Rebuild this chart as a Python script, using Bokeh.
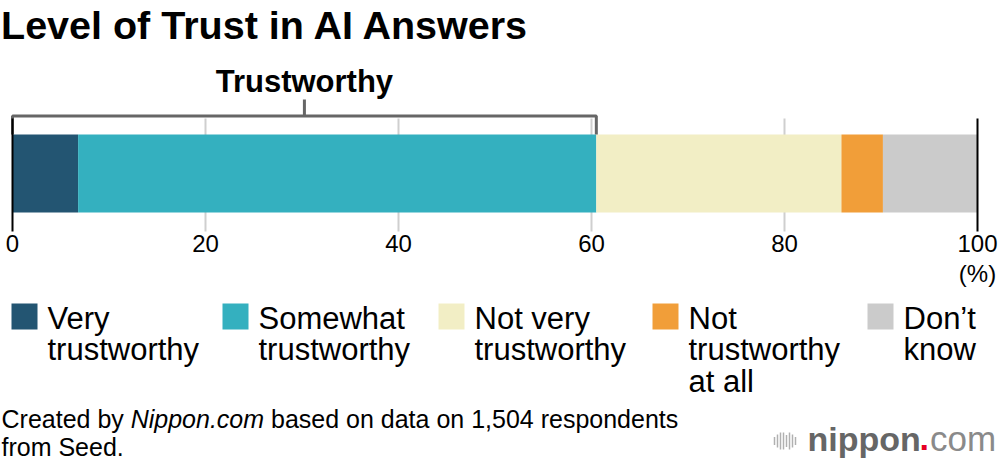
from bokeh.plotting import figure
from bokeh.models import Range1d, LinearAxis, FixedTicker, ColumnDataSource
from bokeh.core.properties import value
from bokeh.embed import file_html
from bokeh.resources import INLINE

# ---------------- data ----------------
title_text = "Level of Trust in AI Answers"
categories = ["Very\ntrustworthy", "Somewhat\ntrustworthy", "Not very\ntrustworthy",
              "Not\ntrustworthy\nat all", "Don\u2019t\nknow"]
shares = [6.8, 53.7, 25.4, 4.3, 9.8]
colors = ["#235572", "#34b0bf", "#f2eec5", "#f19e39", "#cbcbcb"]
tick_values = [0, 20, 40, 60, 80, 100]
tick_labels = ["0", "20", "40", "60", "80", "100"]
unit_label = "(%)"
bracket_label = "Trustworthy"
bracket_count = 2  # first two categories form the "Trustworthy" group
footer_parts = ["Created by", "Nippon.com", "based on data on 1,504 respondents"]
footer_line2 = "from Seed."

# ---------------- layout (pixel space of the page) ----------------
FONT = "Liberation Sans"
W, H = 1000, 466
PX0, PX100 = 12, 977        # pixel of 0 % and 100 %
S = (PX100 - PX0) / 100.0
K = 0.32                    # baseline correction (fraction of font size)


def base(y, fs):
    """alphabetic baseline position corrected for the renderer's offset"""
    return y - K * fs


p = figure(width=W, height=H,
           x_range=Range1d((0 - PX0) / S, (W - PX0) / S),
           y_range=Range1d(H, 0),
           output_backend="svg", toolbar_location=None,
           x_axis_location=None, y_axis_location=None,
           min_border=0, outline_line_color=None,
           background_fill_color="white", border_fill_color="white")
p.extra_x_ranges = {"px": Range1d(0, W)}
p.grid.visible = False

# cumulative extents
lefts, rights = [], []
acc = 0.0
for s in shares:
    lefts.append(acc)
    acc += s
    rights.append(acc)

BAR_Y, BAR_H = 173, 78
GRID_TOP, GRID_BOT = 118, 231

# grid lines (behind bar)
inner = tick_values[1:-1]
p.segment(x0=inner, y0=[GRID_TOP] * len(inner), x1=inner, y1=[GRID_BOT] * len(inner),
          line_color="#cfcfcf", line_width=2)

src = ColumnDataSource(dict(y=[BAR_Y] * len(shares), left=lefts, right=rights, color=colors))
p.hbar(y="y", left="left", right="right", height=BAR_H, fill_color="color",
       line_color=None, source=src)

# bracket
trust_total = rights[bracket_count - 1]
mid = trust_total / 2.0
BR_Y = 115.5
bar_top = BAR_Y - BAR_H / 2
p.line(x=[0, 0, trust_total, trust_total], y=[bar_top, BR_Y, BR_Y, bar_top],
       line_color="#666666", line_width=3)
p.segment(x0=[mid], y0=[99], x1=[mid], y1=[BR_Y], line_color="#666666", line_width=3)
p.text(x=[mid], y=[base(91, 31)], text=[bracket_label], text_font=value(FONT),
       text_font_style="bold", text_font_size="31px", text_align="center",
       text_baseline="alphabetic", text_color="black")

# edge lines at 0 and 100
edges = [tick_values[0], tick_values[-1]]
p.segment(x0=edges, y0=[GRID_TOP] * 2, x1=edges, y1=[GRID_BOT] * 2,
          line_color="black", line_width=2)

# x axis (fixed inside frame)
xaxis = LinearAxis(ticker=FixedTicker(ticks=tick_values), fixed_location=230,
                   axis_line_color=None, major_tick_line_color=None,
                   minor_tick_line_color=None, major_tick_out=0, major_tick_in=0,
                   major_label_standoff=4, major_label_text_font=FONT,
                   major_label_text_font_size="24px", major_label_text_color="black")
xaxis.major_label_overrides = {v: l for v, l in zip(tick_values, tick_labels)}
p.add_layout(xaxis, "below")
p.text(x=[tick_values[-1]], y=[base(281, 24)], text=[unit_label], text_font=value(FONT),
       text_font_size="24px", text_align="center", text_baseline="alphabetic",
       text_color="black")

# title
p.text(x=[0.5], y=[base(37.5, 39.5)], x_range_name="px", text=[title_text],
       text_font=value(FONT), text_font_style="bold", text_font_size="39.5px",
       text_baseline="alphabetic", text_color="black")

# legend
leg_x = [11, 222, 438, 652, 867]
SW = 26
LFS = 31
p.rect(x=[x + SW / 2 for x in leg_x], y=[316] * len(leg_x), width=SW, height=SW,
       x_range_name="px", fill_color=colors, line_color=None)
lx, ly, lt = [], [], []
for x, lab in zip(leg_x, categories):
    for i, line in enumerate(lab.split("\n")):
        lx.append(x + 36)
        ly.append(base(327.5 + i * 31.5, LFS))
        lt.append(line)
p.text(x=lx, y=ly, text=lt, x_range_name="px", text_font=value(FONT),
       text_font_size="%dpx" % LFS, text_baseline="alphabetic", text_color="black")

# footer
FFS = 25
FS = "%dpx" % FFS
p.text(x=[1], y=[base(426.5, FFS)], text=[footer_parts[0]], x_range_name="px",
       text_font=value(FONT), text_font_size=FS, text_baseline="alphabetic", text_color="black")
p.text(x=[130.2], y=[base(426.5, FFS)], text=[footer_parts[1]], x_range_name="px",
       text_font=value(FONT), text_font_style="italic", text_font_size=FS,
       text_baseline="alphabetic", text_color="black")
p.text(x=[270.5], y=[base(426.5, FFS)], text=[footer_parts[2]], x_range_name="px",
       text_font=value(FONT), text_font_size=FS, text_baseline="alphabetic", text_color="black")
p.text(x=[1], y=[base(454.5, FFS)], text=[footer_line2], x_range_name="px",
       text_font=value(FONT), text_font_size=FS, text_baseline="alphabetic", text_color="black")

# logo
icon_x = [774, 777, 780, 783, 786, 789, 792, 795]
icon_h = [8, 13, 17, 17, 12, 17, 13, 8]
p.segment(x0=icon_x, y0=[440.5 - h / 2 for h in icon_h], x1=icon_x,
          y1=[440.5 + h / 2 for h in icon_h], x_range_name="px",
          line_color="#b0b0b0", line_width=1.5)
p.text(x=[807], y=[base(449, 34)], text=["nippon"], x_range_name="px", text_font=value(FONT),
       text_font_style="bold", text_font_size="34px", text_baseline="alphabetic",
       text_color="#666666")
p.text(x=[919], y=[base(449, 34)], text=["."], x_range_name="px", text_font=value(FONT),
       text_font_style="bold", text_font_size="34px", text_baseline="alphabetic",
       text_color="#e60023")
p.text(x=[929.5], y=[base(449, 35)], text=["com"], x_range_name="px", text_font=value(FONT),
       text_font_size="35px", text_baseline="alphabetic", text_color="#8a8a8a")

open("out.html", "w").write(file_html(p, INLINE))
